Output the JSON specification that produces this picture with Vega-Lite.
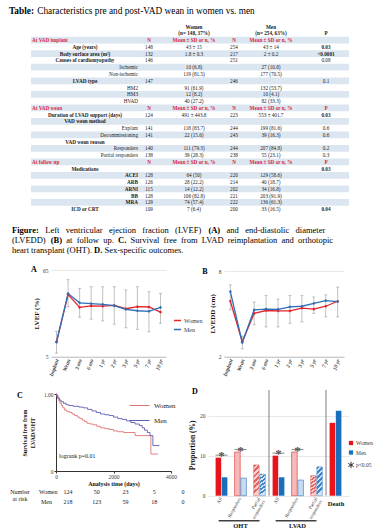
{
"$schema":"https://vega.github.io/schema/vega-lite/v6.json",
"padding":0,
"background":"white",
"spacing":0,
"resolve":{"scale":{"color":"independent"},"legend":{"color":"independent"}},
"config":{"view":{"stroke":"transparent","fill":null},"font":"Liberation Serif","text":{"color":"#1a1a1a"},"axis":{"labelColor":"#404040","titleColor":"#111111"},"title":{"color":"#000000"}},
"datasets":{
"ttl":[{"i":"t","seg":"b","text":"Table:"},{"i":"t","seg":"n","text":"Characteristics pre and post-VAD wean in women vs. men"}],
"tbl":[
{"i":"h1","kind":"hdr","v1":"Women","v2":"Men"},
{"i":"h2","kind":"hdr","v1":"(n= 148, 37%)","v2":"(n= 254, 63%)","p":"P"},
{"i":0,"kind":"sec","label":"At VAD implant","n1":"N","v1":"Mean ± SD or n, %","n2":"N","v2":"Mean ± SD or n, %"},
{"i":1,"kind":"var","label":"Age (years)","n1":"148","v1":"43 ± 15","n2":"254","v2":"43 ± 14","p":"0.03","sig":true},
{"i":2,"kind":"var","label":"Body surface area (m²)","n1":"132","v1":"1.8 ± 0.3","n2":"217","v2":"2 ± 0.2","p":"<0.0001","sig":true},
{"i":3,"kind":"var","label":"Causes of cardiomyopathy","n1":"146","n2":"251","p":"0.08"},
{"i":4,"kind":"lvl","label":"Ischemic","v1":"10 (6.8)","v2":"27 (10.8)"},
{"i":5,"kind":"lvl","label":"Non-ischemic","v1":"119 (81.5)","v2":"177 (70.5)"},
{"i":6,"kind":"var","label":"LVAD type","n1":"147","n2":"246","p":"0.1"},
{"i":7,"kind":"lvl","label":"HM2","v1":"91 (61.9)","v2":"132 (53.7)"},
{"i":8,"kind":"lvl","label":"HM3","v1":"12 (8.2)","v2":"10 (4.1)"},
{"i":9,"kind":"lvl","label":"HVAD","v1":"40 (27.2)","v2":"82 (33.3)"},
{"i":10,"kind":"sec","label":"At VAD wean","n1":"N","v1":"Mean ± SD or n, %","n2":"N","v2":"Mean ± SD or n, %","p":"P"},
{"i":11,"kind":"var","label":"Duration of LVAD support (days)","n1":"124","v1":"491 ± 443.8","n2":"223","v2":"553 ± 401.7","p":"0.03","sig":true},
{"i":12,"kind":"var","label":"VAD wean method"},
{"i":13,"kind":"lvl","label":"Explant","n1":"141","v1":"118 (83.7)","n2":"244","v2":"199 (81.6)","p":"0.6"},
{"i":14,"kind":"lvl","label":"Decommissioning","n1":"141","v1":"22 (15.6)","n2":"243","v2":"39 (16.3)","p":"0.6"},
{"i":15,"kind":"var","label":"VAD wean reason"},
{"i":16,"kind":"lvl","label":"Responders","n1":"140","v1":"111 (79.3)","n2":"244","v2":"207 (84.8)","p":"0.2"},
{"i":17,"kind":"lvl","label":"Partial responders","n1":"138","v1":"39 (28.3)","n2":"238","v2":"55 (23.1)","p":"0.3"},
{"i":18,"kind":"sec","label":"At follow up","n1":"N","v1":"Mean ± SD or n, %","n2":"N","v2":"Mean ± SD or n, %","p":"P"},
{"i":19,"kind":"var","label":"Medications","p":"0.03","sig":true},
{"i":20,"kind":"drug","label":"ACEI","n1":"128","v1":"64 (50)","n2":"220","v2":"129 (58.6)"},
{"i":21,"kind":"drug","label":"ARB","n1":"126","v1":"28 (22.2)","n2":"214","v2":"40 (18.7)"},
{"i":22,"kind":"drug","label":"ARNI","n1":"115","v1":"14 (12.2)","n2":"202","v2":"34 (16.8)"},
{"i":23,"kind":"drug","label":"BB","n1":"128","v1":"106 (82.8)","n2":"221","v2":"203 (91.9)"},
{"i":24,"kind":"drug","label":"MRA","n1":"129","v1":"74 (57.4)","n2":"222","v2":"136 (61.3)"},
{"i":25,"kind":"var","label":"ICD or CRT","n1":"109","v1":"7 (6.4)","n2":"200","v2":"33 (16.5)","p":"0.04","sig":true}
],
"cap":[
{"seg":"a1","line":1,"text":"Figure:"},{"seg":"a2","line":1,"text":"Left \u00a0\u00a0ventricular \u00a0\u00a0ejection \u00a0\u00a0fraction \u00a0\u00a0(LVEF)"},{"seg":"a3","line":1,"text":"(A)"},{"seg":"a4","line":1,"text":"and \u00a0\u00a0end-diastolic \u00a0\u00a0diameter"},
{"seg":"b1","line":2,"text":"(LVEDD)"},{"seg":"b2","line":2,"text":"(B)"},{"seg":"b3","line":2,"text":"at \u00a0follow \u00a0up."},{"seg":"b4","line":2,"text":"C."},{"seg":"b5","line":2,"text":"Survival \u00a0free \u00a0from \u00a0LVAD \u00a0reimplantation \u00a0and \u00a0orthotopic"},
{"seg":"c1","line":3,"text":"heart transplant (OHT)."},{"seg":"c2","line":3,"text":"D."},{"seg":"c3","line":3,"text":"Sex-specific outcomes."}
],
"lvef":[
{"sex":"Women","t":"Implant","v":15.3},{"sex":"Women","t":"Wean","v":48.0},{"sex":"Women","t":"3 mo","v":39.1},{"sex":"Women","t":"6 mo","v":40.1},{"sex":"Women","t":"1 yr","v":40.0},{"sex":"Women","t":"2 yr","v":40.5},{"sex":"Women","t":"3 yr","v":38.2},{"sex":"Women","t":"5 yr","v":39.6},{"sex":"Women","t":"7 yr","v":39.4},{"sex":"Women","t":"10 yr","v":35.9},
{"sex":"Men","t":"Implant","v":15.0},{"sex":"Men","t":"Wean","v":48.7},{"sex":"Men","t":"3 mo","v":42.3},{"sex":"Men","t":"6 mo","v":41.7},{"sex":"Men","t":"1 yr","v":41.2},{"sex":"Men","t":"2 yr","v":40.4},{"sex":"Men","t":"3 yr","v":37.8},{"sex":"Men","t":"5 yr","v":36.8},{"sex":"Men","t":"7 yr","v":36.4},{"sex":"Men","t":"10 yr","v":39.1}
],
"lvef_err":[
{"t":"Implant","lo":7.5,"hi":22.5},{"t":"Wean","lo":39.6,"hi":58.3},{"t":"3 mo","lo":32.3,"hi":52.3},{"t":"6 mo","lo":31.0,"hi":53.4},{"t":"1 yr","lo":29.8,"hi":53.4},{"t":"2 yr","lo":27.5,"hi":53.4},{"t":"3 yr","lo":25.0,"hi":51.2},{"t":"5 yr","lo":23.9,"hi":53.4},{"t":"7 yr","lo":22.3,"hi":50.0},{"t":"10 yr","lo":28.1,"hi":48.8}
],
"lvedd":[
{"sex":"Women","t":"Implant","v":5.92},{"sex":"Women","t":"Wean","v":3.05},{"sex":"Women","t":"3 mo","v":5.05},{"sex":"Women","t":"6 mo","v":5.25},{"sex":"Women","t":"1 yr","v":5.22},{"sex":"Women","t":"2 yr","v":5.22},{"sex":"Women","t":"3 yr","v":5.42},{"sex":"Women","t":"5 yr","v":5.35},{"sex":"Women","t":"7 yr","v":5.55},{"sex":"Women","t":"10 yr","v":5.9},
{"sex":"Men","t":"Implant","v":6.58},{"sex":"Men","t":"Wean","v":3.0},{"sex":"Men","t":"3 mo","v":5.29},{"sex":"Men","t":"6 mo","v":5.35},{"sex":"Men","t":"1 yr","v":5.33},{"sex":"Men","t":"2 yr","v":5.5},{"sex":"Men","t":"3 yr","v":5.55},{"sex":"Men","t":"5 yr","v":5.75},{"sex":"Men","t":"7 yr","v":5.95},{"sex":"Men","t":"10 yr","v":5.88}
],
"lvedd_err":[
{"t":"Implant","lo":5.3,"hi":7.05},{"t":"Wean","lo":2.55,"hi":3.45},{"t":"3 mo","lo":4.25,"hi":5.85},{"t":"6 mo","lo":4.1,"hi":6.3},{"t":"1 yr","lo":4.1,"hi":6.05},{"t":"2 yr","lo":4.35,"hi":6.3},{"t":"3 yr","lo":4.45,"hi":6.3},{"t":"5 yr","lo":5.05,"hi":6.2},{"t":"7 yr","lo":4.8,"hi":6.35},{"t":"10 yr","lo":4.8,"hi":6.9}
],
"km":[
{"sex":"Women","days":0,"surv":1},{"sex":"Women","days":25,"surv":0.97},{"sex":"Women","days":60,"surv":0.94},{"sex":"Women","days":100,"surv":0.91},{"sex":"Women","days":140,"surv":0.88},{"sex":"Women","days":190,"surv":0.85},{"sex":"Women","days":240,"surv":0.82},{"sex":"Women","days":300,"surv":0.79},{"sex":"Women","days":380,"surv":0.77},{"sex":"Women","days":470,"surv":0.76},{"sex":"Women","days":560,"surv":0.74},{"sex":"Women","days":650,"surv":0.72},{"sex":"Women","days":740,"surv":0.70},{"sex":"Women","days":830,"surv":0.68},{"sex":"Women","days":920,"surv":0.66},{"sex":"Women","days":1000,"surv":0.64},{"sex":"Women","days":1080,"surv":0.62},{"sex":"Women","days":1180,"surv":0.61},{"sex":"Women","days":1300,"surv":0.60},{"sex":"Women","days":1420,"surv":0.58},{"sex":"Women","days":1560,"surv":0.56},{"sex":"Women","days":1700,"surv":0.55},{"sex":"Women","days":1850,"surv":0.54},{"sex":"Women","days":2000,"surv":0.52},{"sex":"Women","days":2150,"surv":0.51},{"sex":"Women","days":2350,"surv":0.50},{"sex":"Women","days":2750,"surv":0.46},{"sex":"Women","days":3300,"surv":0.22},{"sex":"Women","days":3550,"surv":0.22},
{"sex":"Men","days":0,"surv":1},{"sex":"Men","days":30,"surv":0.98},{"sex":"Men","days":70,"surv":0.95},{"sex":"Men","days":120,"surv":0.92},{"sex":"Men","days":180,"surv":0.90},{"sex":"Men","days":260,"surv":0.88},{"sex":"Men","days":350,"surv":0.86},{"sex":"Men","days":450,"surv":0.85},{"sex":"Men","days":600,"surv":0.84},{"sex":"Men","days":800,"surv":0.83},{"sex":"Men","days":950,"surv":0.82},{"sex":"Men","days":1100,"surv":0.80},{"sex":"Men","days":1250,"surv":0.78},{"sex":"Men","days":1400,"surv":0.76},{"sex":"Men","days":1550,"surv":0.74},{"sex":"Men","days":1700,"surv":0.73},{"sex":"Men","days":1850,"surv":0.72},{"sex":"Men","days":2000,"surv":0.70},{"sex":"Men","days":2150,"surv":0.68},{"sex":"Men","days":2300,"surv":0.67},{"sex":"Men","days":2450,"surv":0.65},{"sex":"Men","days":2600,"surv":0.63},{"sex":"Men","days":2750,"surv":0.61},{"sex":"Men","days":2900,"surv":0.59},{"sex":"Men","days":3000,"surv":0.56},{"sex":"Men","days":3080,"surv":0.53},{"sex":"Men","days":3180,"surv":0.50},{"sex":"Men","days":3270,"surv":0.46},{"sex":"Men","days":3370,"surv":0.33},{"sex":"Men","days":3600,"surv":0.33}
],
"risk":[
{"sex":"Women","days":0,"n":124},{"sex":"Women","days":1000,"n":50},{"sex":"Women","days":2000,"n":23},{"sex":"Women","days":3000,"n":5},{"sex":"Women","days":4000,"n":0},
{"sex":"Men","days":0,"n":218},{"sex":"Men","days":1000,"n":123},{"sex":"Men","days":2000,"n":59},{"sex":"Men","days":3000,"n":18},{"sex":"Men","days":4000,"n":0}
],
"outc":[
{"cat":"OHT-All","outcome":"All","sex":"Women","value":9.5,"sig":true},{"cat":"OHT-All","outcome":"All","sex":"Men","value":4.6,"sig":true},
{"cat":"OHT-Responders","outcome":"Responders","sex":"Women","value":10.9,"sig":true},{"cat":"OHT-Responders","outcome":"Responders","sex":"Men","value":4.4,"sig":true},
{"cat":"OHT-Partial","outcome":"Partial responders","sex":"Women","value":7.7,"sig":false},{"cat":"OHT-Partial","outcome":"Partial responders","sex":"Men","value":5.4,"sig":false},
{"cat":"LVAD-All","outcome":"All","sex":"Women","value":10.0,"sig":true},{"cat":"LVAD-All","outcome":"All","sex":"Men","value":4.6,"sig":true},
{"cat":"LVAD-Responders","outcome":"Responders","sex":"Women","value":10.9,"sig":true},{"cat":"LVAD-Responders","outcome":"Responders","sex":"Men","value":3.9,"sig":true},
{"cat":"LVAD-Partial","outcome":"Partial responders","sex":"Women","value":5.0,"sig":false},{"cat":"LVAD-Partial","outcome":"Partial responders","sex":"Men","value":7.2,"sig":false},
{"cat":"Death","outcome":"Death","sex":"Women","value":18.2,"sig":false},{"cat":"Death","outcome":"Death","sex":"Men","value":21.2,"sig":false}
]
},
"vconcat":[
{"hconcat":[
{"width":30,"height":213.6,"data":{"name":"ttl"},
 "encoding":{"y":{"field":"i","type":"ordinal","scale":{"type":"band","domain":["t0","t","b","h1","h2",0,1,2,3,4,5,6,7,8,9,10,11,12,13,14,15,16,17,18,19,20,21,22,23,24,25],"paddingInner":0,"paddingOuter":0.3},"axis":null},"x":{"value":0},"text":{"field":"text"}},
 "layer":[
  {"transform":[{"filter":"datum.seg === 'b'"}],"mark":{"type":"text","align":"left","dx":8,"dy":-2,"fontSize":9.3,"fontWeight":"bold","color":"#000"}},
  {"transform":[{"filter":"datum.seg === 'n'"}],"mark":{"type":"text","align":"left","dx":36.2,"dy":-2,"fontSize":9.3,"color":"#000"}}
 ]},
{"width":108,"height":213.6,"data":{"name":"tbl"},
 "encoding":{"y":{"field":"i","type":"ordinal","scale":{"type":"band","domain":["t0","t","b","h1","h2",0,1,2,3,4,5,6,7,8,9,10,11,12,13,14,15,16,17,18,19,20,21,22,23,24,25],"paddingInner":0,"paddingOuter":0.3},"axis":null}},
 "layer":[
  {"transform":[{"filter":"datum.i % 2 === 0"}],"mark":{"type":"rect","fill":"#dce6f1"}},
  {"transform":[{"filter":"datum.kind === 'sec'"}],"mark":{"type":"text","align":"left","dx":1,"fontSize":5.2,"fontWeight":"bold","color":"#d7263d"},"encoding":{"x":{"value":0},"text":{"field":"label"}}},
  {"transform":[{"filter":"datum.kind === 'var'"}],"mark":{"type":"text","fontSize":5.2,"fontWeight":"bold"},"encoding":{"text":{"field":"label"}}},
  {"transform":[{"filter":"datum.kind === 'lvl'"}],"mark":{"type":"text","align":"right","dx":-1,"fontSize":5.2},"encoding":{"x":{"value":"width"},"text":{"field":"label"}}},
  {"transform":[{"filter":"datum.kind === 'drug'"}],"mark":{"type":"text","align":"right","dx":-1,"fontSize":5.2,"fontWeight":"bold"},"encoding":{"x":{"value":"width"},"text":{"field":"label"}}}
 ]},
{"width":20,"height":213.6,"data":{"name":"tbl"},
 "encoding":{"y":{"field":"i","type":"ordinal","scale":{"type":"band","domain":["t0","t","b","h1","h2",0,1,2,3,4,5,6,7,8,9,10,11,12,13,14,15,16,17,18,19,20,21,22,23,24,25],"paddingInner":0,"paddingOuter":0.3},"axis":null}},
 "layer":[
  {"transform":[{"filter":"datum.i % 2 === 0"}],"mark":{"type":"rect","fill":"#dce6f1"}},
  {"transform":[{"filter":"isValid(datum.n1) && datum.kind !== 'sec' && datum.kind !== 'hdr'"}],"mark":{"type":"text","fontSize":5.2},"encoding":{"text":{"field":"n1"}}},
  {"transform":[{"filter":"isValid(datum.n1) && (datum.kind === 'sec' || datum.kind === 'hdr')"}],"mark":{"type":"text","fontSize":5.2,"fontWeight":"bold"},"encoding":{"text":{"field":"n1"},"color":{"condition":{"test":"datum.kind === 'sec'","value":"#d7263d"},"value":"#1a1a1a"}}}
 ]},
{"width":70,"height":213.6,"data":{"name":"tbl"},
 "encoding":{"y":{"field":"i","type":"ordinal","scale":{"type":"band","domain":["t0","t","b","h1","h2",0,1,2,3,4,5,6,7,8,9,10,11,12,13,14,15,16,17,18,19,20,21,22,23,24,25],"paddingInner":0,"paddingOuter":0.3},"axis":null}},
 "layer":[
  {"transform":[{"filter":"datum.i % 2 === 0"}],"mark":{"type":"rect","fill":"#dce6f1"}},
  {"transform":[{"filter":"isValid(datum.v1) && datum.kind !== 'sec' && datum.kind !== 'hdr'"}],"mark":{"type":"text","fontSize":5.2},"encoding":{"text":{"field":"v1"}}},
  {"transform":[{"filter":"isValid(datum.v1) && (datum.kind === 'sec' || datum.kind === 'hdr')"}],"mark":{"type":"text","fontSize":5.2,"fontWeight":"bold"},"encoding":{"text":{"field":"v1"},"color":{"condition":{"test":"datum.kind === 'sec'","value":"#d7263d"},"value":"#1a1a1a"}}}
 ]},
{"width":10,"height":213.6,"data":{"name":"tbl"},
 "encoding":{"y":{"field":"i","type":"ordinal","scale":{"type":"band","domain":["t0","t","b","h1","h2",0,1,2,3,4,5,6,7,8,9,10,11,12,13,14,15,16,17,18,19,20,21,22,23,24,25],"paddingInner":0,"paddingOuter":0.3},"axis":null}},
 "layer":[
  {"transform":[{"filter":"datum.i % 2 === 0"}],"mark":{"type":"rect","fill":"#dce6f1"}},
  {"transform":[{"filter":"isValid(datum.n2) && datum.kind !== 'sec' && datum.kind !== 'hdr'"}],"mark":{"type":"text","fontSize":5.2},"encoding":{"text":{"field":"n2"}}},
  {"transform":[{"filter":"isValid(datum.n2) && (datum.kind === 'sec' || datum.kind === 'hdr')"}],"mark":{"type":"text","fontSize":5.2,"fontWeight":"bold"},"encoding":{"text":{"field":"n2"},"color":{"condition":{"test":"datum.kind === 'sec'","value":"#d7263d"},"value":"#1a1a1a"}}}
 ]},
{"width":64,"height":213.6,"data":{"name":"tbl"},
 "encoding":{"y":{"field":"i","type":"ordinal","scale":{"type":"band","domain":["t0","t","b","h1","h2",0,1,2,3,4,5,6,7,8,9,10,11,12,13,14,15,16,17,18,19,20,21,22,23,24,25],"paddingInner":0,"paddingOuter":0.3},"axis":null}},
 "layer":[
  {"transform":[{"filter":"datum.i % 2 === 0"}],"mark":{"type":"rect","fill":"#dce6f1"}},
  {"transform":[{"filter":"isValid(datum.v2) && datum.kind !== 'sec' && datum.kind !== 'hdr'"}],"mark":{"type":"text","fontSize":5.2},"encoding":{"text":{"field":"v2"}}},
  {"transform":[{"filter":"isValid(datum.v2) && (datum.kind === 'sec' || datum.kind === 'hdr')"}],"mark":{"type":"text","fontSize":5.2,"fontWeight":"bold"},"encoding":{"text":{"field":"v2"},"color":{"condition":{"test":"datum.kind === 'sec'","value":"#d7263d"},"value":"#1a1a1a"}}}
 ]},
{"width":46,"height":213.6,"data":{"name":"tbl"},
 "encoding":{"y":{"field":"i","type":"ordinal","scale":{"type":"band","domain":["t0","t","b","h1","h2",0,1,2,3,4,5,6,7,8,9,10,11,12,13,14,15,16,17,18,19,20,21,22,23,24,25],"paddingInner":0,"paddingOuter":0.3},"axis":null}},
 "layer":[
  {"transform":[{"filter":"datum.i % 2 === 0"}],"mark":{"type":"rect","fill":"#dce6f1"}},
  {"transform":[{"filter":"isValid(datum.p) && !datum.sig && datum.kind !== 'sec' && datum.kind !== 'hdr'"}],"mark":{"type":"text","fontSize":5.2},"encoding":{"text":{"field":"p"}}},
  {"transform":[{"filter":"isValid(datum.p) && (datum.sig || datum.kind === 'sec' || datum.kind === 'hdr')"}],"mark":{"type":"text","fontSize":5.2,"fontWeight":"bold"},"encoding":{"text":{"field":"p"},"color":{"condition":{"test":"datum.kind === 'sec'","value":"#d7263d"},"value":"#1a1a1a"}}}
 ]},
{"width":1,"height":224,"data":{"values":[{"s":1}]},"mark":{"type":"point","opacity":0},"encoding":{}}
],"spacing":0,"bounds":"flush"},

{"hconcat":[
{"width":50,"height":116,"data":{"name":"cap"},
 "encoding":{"y":{"field":"line","type":"quantitative","scale":{"domain":[4.97,16.57],"reverse":true,"nice":false,"zero":false},"axis":null},"x":{"value":0},"text":{"field":"text"}},
 "layer":[
  {"transform":[{"filter":"datum.seg === 'a1'"}],"mark":{"type":"text","align":"left","fontSize":8.5,"fontWeight":"bold","dx":11,"color":"#000"}},
  {"transform":[{"filter":"datum.seg === 'a2'"}],"mark":{"type":"text","align":"left","fontSize":8.5,"dx":44.3,"color":"#000"}},
  {"transform":[{"filter":"datum.seg === 'a3'"}],"mark":{"type":"text","align":"left","fontSize":8.5,"fontWeight":"bold","dx":207.4,"color":"#000"}},
  {"transform":[{"filter":"datum.seg === 'a4'"}],"mark":{"type":"text","align":"left","fontSize":8.5,"dx":225.6,"color":"#000"}},
  {"transform":[{"filter":"datum.seg === 'b1'"}],"mark":{"type":"text","align":"left","fontSize":8.5,"dx":11,"color":"#000"}},
  {"transform":[{"filter":"datum.seg === 'b2'"}],"mark":{"type":"text","align":"left","fontSize":8.5,"fontWeight":"bold","dx":49.7,"color":"#000"}},
  {"transform":[{"filter":"datum.seg === 'b3'"}],"mark":{"type":"text","align":"left","fontSize":8.5,"dx":65.3,"color":"#000"}},
  {"transform":[{"filter":"datum.seg === 'b4'"}],"mark":{"type":"text","align":"left","fontSize":8.5,"fontWeight":"bold","dx":117.0,"color":"#000"}},
  {"transform":[{"filter":"datum.seg === 'b5'"}],"mark":{"type":"text","align":"left","fontSize":8.5,"dx":129.5,"color":"#000"}},
  {"transform":[{"filter":"datum.seg === 'c1'"}],"mark":{"type":"text","align":"left","fontSize":8.5,"dx":11,"color":"#000"}},
  {"transform":[{"filter":"datum.seg === 'c2'"}],"mark":{"type":"text","align":"left","fontSize":8.5,"fontWeight":"bold","dx":93.1,"color":"#000"}},
  {"transform":[{"filter":"datum.seg === 'c3'"}],"mark":{"type":"text","align":"left","fontSize":8.5,"dx":103.5,"color":"#000"}}
 ]},
{"width":115,"height":86.7,
 "encoding":{"x":{"field":"t","type":"ordinal","scale":{"type":"point","domain":["Implant","Wean","3 mo","6 mo","1 yr","2 yr","3 yr","5 yr","7 yr","10 yr"],"padding":0.476},"axis":{"labelAngle":-70,"labelFontStyle":"italic","labelFontWeight":"bold","labelFontSize":5.5,"ticks":false,"domainColor":"#bfbfbf","title":null,"labelPadding":2}}},
 "layer":[
  {"data":{"name":"lvef_err"},"mark":{"type":"errorbar","ticks":{"size":3,"color":"#a6a6a6"},"rule":{"color":"#a6a6a6","strokeWidth":0.7}},
   "encoding":{"y":{"field":"lo","type":"quantitative","scale":{"domain":[5,65],"nice":false,"zero":false},"axis":{"values":[5,15,25,35,45,55,65],"grid":true,"gridColor":"#d9d9d9","gridWidth":0.6,"domain":false,"ticks":false,"labelFontSize":5.5,"labelPadding":3,"title":"LVEF (%)","titleFontSize":7,"titleFontWeight":"bold","titlePadding":3}},"y2":{"field":"hi"}}},
  {"data":{"name":"lvef"},"mark":{"type":"line","strokeWidth":1.3,"point":{"shape":"diamond","size":10,"filled":true}},
   "encoding":{"y":{"field":"v","type":"quantitative"},"color":{"field":"sex","type":"nominal","scale":{"domain":["Women","Men"],"range":["#e3242b","#2e6fb7"]},"legend":{"orient":"none","legendX":122,"legendY":46,"title":null,"symbolType":"stroke","symbolSize":50,"symbolStrokeWidth":1.5,"labelFontSize":6,"rowPadding":1,"padding":0,"labelOffset":2,"labelColor":"#404040"}}}},
  {"data":{"values":[{"lab":"A"}]},"mark":{"type":"text","align":"left","baseline":"middle","fontSize":8,"fontWeight":"bold","dx":-20,"color":"#000"},"encoding":{"x":{"value":0},"y":{"value":0},"text":{"field":"lab"}}}
 ]},
{"width":57.7,"height":1,"data":{"values":[{"s":1}]},"mark":{"type":"point","opacity":0},"encoding":{}},
{"width":120,"height":86.7,
 "encoding":{"x":{"field":"t","type":"ordinal","scale":{"type":"point","domain":["Implant","Wean","3 mo","6 mo","1 yr","2 yr","3 yr","5 yr","7 yr","10 yr"],"padding":0.53},"axis":{"labelAngle":-70,"labelFontStyle":"italic","labelFontWeight":"bold","labelFontSize":5.5,"ticks":false,"domainColor":"#bfbfbf","title":null,"labelPadding":2}}},
 "layer":[
  {"data":{"name":"lvedd_err"},"mark":{"type":"errorbar","ticks":{"size":3,"color":"#a6a6a6"},"rule":{"color":"#a6a6a6","strokeWidth":0.7}},
   "encoding":{"y":{"field":"lo","type":"quantitative","scale":{"domain":[2,8.1],"nice":false,"zero":false},"axis":{"values":[2,3,4,5,6,7,8],"grid":true,"gridColor":"#d9d9d9","gridWidth":0.6,"domain":false,"ticks":false,"labelFontSize":5.5,"labelPadding":3,"title":"LVEDD (cm)","titleFontSize":7,"titleFontWeight":"bold","titlePadding":3}},"y2":{"field":"hi"}}},
  {"data":{"name":"lvedd"},"mark":{"type":"line","strokeWidth":1.3,"point":{"shape":"diamond","size":10,"filled":true}},
   "encoding":{"y":{"field":"v","type":"quantitative"},"color":{"field":"sex","type":"nominal","scale":{"domain":["Women","Men"],"range":["#e3242b","#2e6fb7"]},"legend":null}}},
  {"data":{"values":[{"lab":"B"}]},"mark":{"type":"text","align":"left","baseline":"middle","fontSize":8,"fontWeight":"bold","dx":-21.7,"dy":2,"color":"#000"},"encoding":{"x":{"value":0},"y":{"value":0},"text":{"field":"lab"}}}
 ]}
],"spacing":0,"bounds":"flush","resolve":{"scale":{"color":"independent"},"legend":{"color":"independent"}}},

{"hconcat":[
{"width":55,"height":1,"data":{"values":[{"s":1}]},"mark":{"type":"point","opacity":0},"encoding":{}},
{"width":115,"height":77,
 "layer":[
  {"data":{"name":"km"},"mark":{"type":"line","interpolate":"step-after","strokeWidth":0.9},
   "encoding":{
    "x":{"field":"days","type":"quantitative","scale":{"domain":[0,4000],"nice":false},"axis":{"values":[0,1000,2000,3000,4000],"format":"d","labelOverlap":false,"labelFontSize":5.5,"tickSize":2,"tickColor":"#333","domainColor":"#333","labelPadding":1,"grid":false,"title":"Analysis time (days)","titleFontSize":6,"titleFontWeight":"bold","titlePadding":1,"labelFlush":false}},
    "y":{"field":"surv","type":"quantitative","scale":{"domain":[0,1],"nice":false},"axis":{"values":[0,0.25,0.5,0.75,1],"labelOverlap":false,"labelExpr":"datum.value === 0 ? '0' : format(datum.value, '.2f')","labelFontSize":5.5,"tickSize":2,"tickColor":"#333","domainColor":"#333","labelPadding":1,"grid":false,"title":["Survival free from","LVAD/OHT"],"titleFontSize":6,"titleFontWeight":"bold","titlePadding":8,"labelFlush":false}},
    "color":{"field":"sex","type":"nominal","scale":{"domain":["Women","Men"],"range":["#e07575","#5c5db5"]},"legend":{"orient":"none","legendX":73,"legendY":1,"title":null,"symbolType":"stroke","symbolSize":400,"symbolStrokeWidth":1,"labelFontSize":7,"rowPadding":1,"padding":0,"labelOffset":4,"labelColor":"#222"}}}},
  {"data":{"values":[{"note":"logrank p=0.01"}]},"mark":{"type":"text","align":"left","fontSize":6},"encoding":{"x":{"datum":100},"y":{"datum":0.19},"text":{"field":"note"}}},
  {"data":{"name":"risk"},"transform":[{"filter":"datum.sex === 'Women'"}],"mark":{"type":"text","fontSize":6,"dx":12,"dy":21},"encoding":{"x":{"field":"days","type":"quantitative"},"y":{"datum":0},"text":{"field":"n"}}},
  {"data":{"name":"risk"},"transform":[{"filter":"datum.sex === 'Men'"}],"mark":{"type":"text","fontSize":6,"dx":12,"dy":31},"encoding":{"x":{"field":"days","type":"quantitative"},"y":{"datum":0},"text":{"field":"n"}}},
  {"data":{"values":[{"g":"Women"}]},"mark":{"type":"text","align":"left","fontSize":6,"dx":-17,"dy":21},"encoding":{"x":{"datum":0},"y":{"datum":0},"text":{"field":"g"}}},
  {"data":{"values":[{"g":"Men"}]},"mark":{"type":"text","align":"left","fontSize":6,"dx":-15,"dy":31},"encoding":{"x":{"datum":0},"y":{"datum":0},"text":{"field":"g"}}},
  {"data":{"values":[{"g":"n"}]},"mark":{"type":"text","align":"center","baseline":"top","fontSize":6,"lineHeight":7,"dx":-36,"dy":18,"text":["Number","at risk"]},"encoding":{"x":{"datum":0},"y":{"datum":0}}},
  {"data":{"values":[{"lab":"C"}]},"mark":{"type":"text","align":"left","baseline":"middle","fontSize":8,"fontWeight":"bold","dx":-39,"dy":1.5,"color":"#000"},"encoding":{"x":{"value":0},"y":{"value":0},"text":{"field":"lab"}}}
 ]},
{"width":37,"height":1,"data":{"values":[{"s":1}]},"mark":{"type":"point","opacity":0},"encoding":{}},
{"width":141,"height":101.7,
 "data":{"name":"outc"},
 "encoding":{"x":{"field":"cat","type":"nominal","sort":null,"scale":{"domain":["OHT-All","OHT-Responders","OHT-Partial","LVAD-All","LVAD-Responders","LVAD-Partial","Death"],"paddingInner":0,"paddingOuter":0.21},"axis":{"labelAngle":-60,"labelFontSize":4.8,"labelPadding":2,"ticks":false,"domain":false,"labelColor":"#404040","labelLineHeight":5.5,"labelExpr":"datum.value === 'Death' ? '' : (indexof(datum.value, 'Partial') >= 0 ? ['Partial', 'responders'] : split(datum.value, '-')[1])","title":"Death","titleX":127.5,"titleY":7.6,"titleAlign":"center","titleBaseline":"middle","titleAngle":0,"titleFontSize":6.5,"titleFontWeight":"bold","titleColor":"#111111"}}},
 "layer":[
  {"transform":[{"filter":"datum.outcome === 'All' || datum.outcome === 'Death'"}],"mark":{"type":"bar"},
   "encoding":{"xOffset":{"field":"sex","type":"nominal","scale":{"domain":["Women","Men"],"paddingOuter":0.58,"paddingInner":0.1}},
    "y":{"field":"value","type":"quantitative","scale":{"domain":[0,25.4],"nice":false},"axis":{"values":[0,5,10,15,20,25],"grid":true,"gridColor":"#d9d9d9","gridWidth":0.6,"domain":false,"ticks":false,"labelFontSize":5.5,"labelPadding":3,"title":"Proportion (%)","titleFontSize":7.5,"titleFontWeight":"bold","titlePadding":3}},
    "color":{"field":"sex","type":"nominal","scale":{"domain":["Women","Men","p<0.05"],"range":["#e8141c","#1a6fbd","#333333"]},
     "legend":{"orient":"none","legendX":140,"legendY":46,"title":null,"symbolType":"square","symbolSize":18,"labelFontSize":5.5,"rowPadding":2.5,"padding":0,"labelOffset":2,"labelColor":"#404040",
      "encode":{"symbols":{"update":{"shape":{"signal":"datum.value === 'p<0.05' ? 'M0,-1L0,1M-0.87,-0.5L0.87,0.5M-0.87,0.5L0.87,-0.5' : 'square'"},"stroke":{"signal":"datum.value === 'p<0.05' ? '#333333' : null"},"fillOpacity":{"signal":"datum.value === 'p<0.05' ? 0 : 1"},"strokeWidth":{"value":1},"size":{"signal":"datum.value === 'p<0.05' ? 40 : 18"}}}}}}}},
  {"transform":[{"filter":"datum.outcome === 'Responders' && datum.sex === 'Women'"}],"mark":{"type":"bar","fill":"#f6b9b9","stroke":"#e05a5a","strokeWidth":0.8},
   "encoding":{"xOffset":{"field":"sex","type":"nominal","scale":{"domain":["Women","Men"],"paddingOuter":0.58,"paddingInner":0.1}},"y":{"field":"value","type":"quantitative"}}},
  {"transform":[{"filter":"datum.outcome === 'Responders' && datum.sex === 'Men'"}],"mark":{"type":"bar","fill":"#c9dcef","stroke":"#5b8fcf","strokeWidth":0.8},
   "encoding":{"xOffset":{"field":"sex","type":"nominal","scale":{"domain":["Women","Men"],"paddingOuter":0.58,"paddingInner":0.1}},"y":{"field":"value","type":"quantitative"}}},
  {"transform":[{"filter":"datum.outcome === 'Partial responders' && datum.sex === 'Women'"}],
   "mark":{"type":"bar","stroke":"#d96a6a","strokeWidth":0.5,"fill":{"gradient":"linear","x1":0,"y1":0,"x2":0.18,"y2":1,"stops":[{"offset":0,"color":"#e46464"},{"offset":0.083,"color":"#e46464"},{"offset":0.083,"color":"#f7cfcf"},{"offset":0.167,"color":"#f7cfcf"},{"offset":0.167,"color":"#e46464"},{"offset":0.25,"color":"#e46464"},{"offset":0.25,"color":"#f7cfcf"},{"offset":0.333,"color":"#f7cfcf"},{"offset":0.333,"color":"#e46464"},{"offset":0.417,"color":"#e46464"},{"offset":0.417,"color":"#f7cfcf"},{"offset":0.5,"color":"#f7cfcf"},{"offset":0.5,"color":"#e46464"},{"offset":0.583,"color":"#e46464"},{"offset":0.583,"color":"#f7cfcf"},{"offset":0.667,"color":"#f7cfcf"},{"offset":0.667,"color":"#e46464"},{"offset":0.75,"color":"#e46464"},{"offset":0.75,"color":"#f7cfcf"},{"offset":0.833,"color":"#f7cfcf"},{"offset":0.833,"color":"#e46464"},{"offset":0.917,"color":"#e46464"},{"offset":0.917,"color":"#f7cfcf"},{"offset":1,"color":"#f7cfcf"}]}},
   "encoding":{"xOffset":{"field":"sex","type":"nominal","scale":{"domain":["Women","Men"],"paddingOuter":0.58,"paddingInner":0.1}},"y":{"field":"value","type":"quantitative"}}},
  {"transform":[{"filter":"datum.outcome === 'Partial responders' && datum.sex === 'Men'"}],
   "mark":{"type":"bar","stroke":"#4a86c8","strokeWidth":0.5,"fill":{"gradient":"linear","x1":0,"y1":0,"x2":0.18,"y2":1,"stops":[{"offset":0,"color":"#3f86cc"},{"offset":0.083,"color":"#3f86cc"},{"offset":0.083,"color":"#d3e4f4"},{"offset":0.167,"color":"#d3e4f4"},{"offset":0.167,"color":"#3f86cc"},{"offset":0.25,"color":"#3f86cc"},{"offset":0.25,"color":"#d3e4f4"},{"offset":0.333,"color":"#d3e4f4"},{"offset":0.333,"color":"#3f86cc"},{"offset":0.417,"color":"#3f86cc"},{"offset":0.417,"color":"#d3e4f4"},{"offset":0.5,"color":"#d3e4f4"},{"offset":0.5,"color":"#3f86cc"},{"offset":0.583,"color":"#3f86cc"},{"offset":0.583,"color":"#d3e4f4"},{"offset":0.667,"color":"#d3e4f4"},{"offset":0.667,"color":"#3f86cc"},{"offset":0.75,"color":"#3f86cc"},{"offset":0.75,"color":"#d3e4f4"},{"offset":0.833,"color":"#d3e4f4"},{"offset":0.833,"color":"#3f86cc"},{"offset":0.917,"color":"#3f86cc"},{"offset":0.917,"color":"#d3e4f4"},{"offset":1,"color":"#d3e4f4"}]}},
   "encoding":{"xOffset":{"field":"sex","type":"nominal","scale":{"domain":["Women","Men"],"paddingOuter":0.58,"paddingInner":0.1}},"y":{"field":"value","type":"quantitative"}}},
  {"transform":[{"filter":"datum.sig"},{"aggregate":[{"op":"max","field":"value","as":"top"}],"groupby":["cat"]}],"mark":{"type":"tick","orient":"horizontal","size":12,"thickness":1,"color":"#555555","yOffset":-2.5},"encoding":{"y":{"field":"top","type":"quantitative"}}},
  {"transform":[{"filter":"datum.sig"},{"aggregate":[{"op":"max","field":"value","as":"top"}],"groupby":["cat"]}],"mark":{"type":"text","text":"*","fontSize":13,"fontWeight":"bold","color":"#555555","yOffset":-2.5,"dy":1},"encoding":{"y":{"field":"top","type":"quantitative"}}},
  {"data":{"values":[{"cat":"LVAD-All"},{"cat":"Death"}]},"mark":{"type":"rule","color":"#7f7f7f","strokeWidth":1,"yOffset":-4,"y2Offset":40},"encoding":{"x":{"field":"cat","type":"nominal","bandPosition":0}}},
  {"data":{"values":[{"from":"OHT-All","to":"OHT-Partial"},{"from":"LVAD-All","to":"LVAD-Partial"}]},"mark":{"type":"rule","color":"#404040","strokeWidth":1.6,"yOffset":25},"encoding":{"x":{"field":"from","type":"nominal","bandPosition":0.35},"x2":{"field":"to"},"y":{"datum":0}}},
  {"data":{"values":[{"cat":"OHT-Responders","label":"OHT"},{"cat":"LVAD-Responders","label":"LVAD"}]},"mark":{"type":"text","fontSize":6.5,"fontWeight":"bold","dy":30,"color":"#111"},"encoding":{"y":{"datum":0},"text":{"field":"label"}}},
  {"data":{"values":[{"lab":"D"}]},"mark":{"type":"text","align":"left","baseline":"middle","fontSize":8,"fontWeight":"bold","dx":-16,"dy":-1.7,"color":"#000"},"encoding":{"x":{"value":0},"y":{"value":0},"text":{"field":"lab"}}}
 ]}
],"spacing":0,"bounds":"flush","resolve":{"scale":{"color":"independent"},"legend":{"color":"independent"}}}
]
}
